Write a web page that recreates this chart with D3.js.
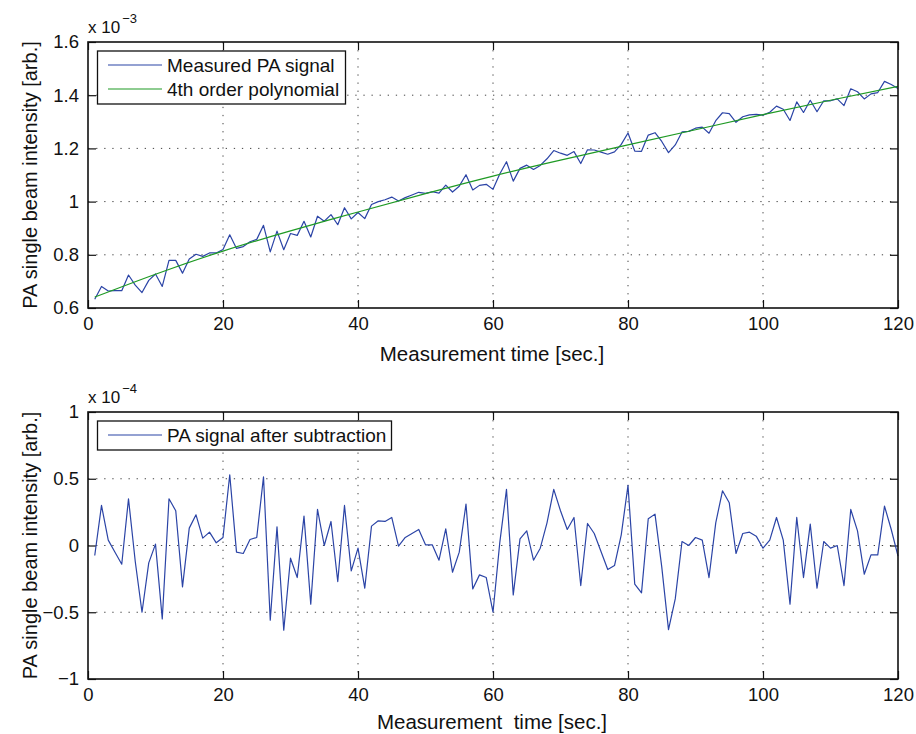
<!DOCTYPE html>
<html>
<head>
<meta charset="UTF-8">
<title>PA signal</title>
<style>
    body{ margin:0; background:#fff; }
    svg{ display:block; }
    text{ font-family:"Liberation Sans", Arial, Helvetica, sans-serif; fill:#111; }
</style>
</head>
<body>
<script src="https://cdn.jsdelivr.net/npm/d3@7"></script>
<script>

// time axis: one sample per second
var timeSec = d3.range(1, 121);

// measured PA signal (x 1e-3)
var measuredSignal = [
    0.633, 0.681, 0.664, 0.665, 0.665, 0.724, 0.686, 0.658, 0.704, 0.728,
    0.681, 0.779, 0.779, 0.731, 0.784, 0.802, 0.794, 0.807, 0.807, 0.820,
    0.875, 0.824, 0.831, 0.849, 0.858, 0.911, 0.811, 0.889, 0.819, 0.880,
    0.873, 0.926, 0.867, 0.945, 0.926, 0.951, 0.913, 0.977, 0.935, 0.959,
    0.936, 0.989, 1.000, 1.007, 1.017, 1.002, 1.015, 1.025, 1.035, 1.031,
    1.037, 1.032, 1.062, 1.036, 1.058, 1.101, 1.044, 1.061, 1.065, 1.046,
    1.104, 1.150, 1.077, 1.125, 1.137, 1.121, 1.136, 1.161, 1.192, 1.182,
    1.174, 1.188, 1.143, 1.195, 1.194, 1.186, 1.178, 1.187, 1.215, 1.258,
    1.190, 1.189, 1.250, 1.259, 1.226, 1.184, 1.213, 1.262, 1.264, 1.276,
    1.280, 1.257, 1.304, 1.334, 1.331, 1.298, 1.319, 1.326, 1.328, 1.325,
    1.336, 1.359, 1.347, 1.305, 1.375, 1.335, 1.381, 1.338, 1.379, 1.379,
    1.386, 1.361, 1.424, 1.413, 1.386, 1.405, 1.410, 1.452, 1.440, 1.425
];

// 4th order polynomial fit, read at a few times (x 1e-3)
var polyTimes  = [1, 10, 20, 30, 40, 50, 60, 70, 80, 90, 100, 110, 120];
var polyValues = [0.641, 0.727, 0.814, 0.890, 0.961, 1.030, 1.096, 1.156, 1.213, 1.270, 1.327, 1.381, 1.433];

// signal after subtraction (x 1e-4)
var residual = [
    -0.075, 0.30, 0.04, -0.05, -0.14, 0.35, -0.12, -0.50, -0.13, 0.01,
    -0.55, 0.35, 0.26, -0.31, 0.13, 0.23, 0.055, 0.10, 0.02, 0.06,
    0.53, -0.05, -0.06, 0.045, 0.06, 0.515, -0.56, 0.14, -0.635, -0.095,
    -0.24, 0.22, -0.44, 0.27, 0.0, 0.18, -0.27, 0.30, -0.19, -0.02,
    -0.32, 0.145, 0.185, 0.18, 0.21, -0.005, 0.06, 0.09, 0.12, 0.005,
    0.005, -0.11, 0.125, -0.20, -0.05, 0.31, -0.325, -0.22, -0.24, -0.50,
    0.02, 0.42, -0.37, 0.05, 0.11, -0.11, -0.02, 0.17, 0.42, 0.26,
    0.12, 0.21, -0.30, 0.165, 0.09, -0.045, -0.18, -0.15, 0.08, 0.45,
    -0.29, -0.355, 0.20, 0.235, -0.16, -0.63, -0.40, 0.03, 0.0, 0.06,
    0.04, -0.24, 0.17, 0.41, 0.32, -0.06, 0.09, 0.10, 0.07, -0.02,
    0.04, 0.21, 0.04, -0.44, 0.21, -0.24, 0.16, -0.32, 0.03, -0.02,
    0.0, -0.30, 0.27, 0.11, -0.215, -0.07, -0.07, 0.295, 0.12, -0.08
];

var xTicks = [0, 20, 40, 60, 80, 100, 120];
var topYTicks = [0.6, 0.8, 1, 1.2, 1.4, 1.6];
var topYLabels = ["0.6", "0.8", "1", "1.2", "1.4", "1.6"];
var botYTicks = [-1, -0.5, 0, 0.5, 1];
var botYLabels = ["\u22121", "\u22120.5", "0", "0.5", "1"];

var BLUE = "#2b44a6", GREEN = "#1f9a24";

var svg = d3.select("body").append("svg")
    .attr("width", 916)
    .attr("height", 734);

svg.append("rect").attr("width", 916).attr("height", 734).attr("fill", "#fff");

var left = 88, right = 898;

function drawPanel(top, bottom, yDomain, yTicks, yLabels, expo, xLabel, xLabelY, series, legend){
    var x = d3.scaleLinear().domain([0, 120]).range([left, right]);
    var y = d3.scaleLinear().domain(yDomain).range([bottom, top]);
    var g = svg.append("g");

    // dotted grid
    g.selectAll(".vg").data(xTicks.slice(1, -1)).enter().append("line")
        .attr("x1", function(d){ return x(d); }).attr("x2", function(d){ return x(d); })
        .attr("y1", top).attr("y2", bottom)
        .attr("stroke", "#444").attr("stroke-width", 1).attr("stroke-dasharray", "1.3,6.8");
    g.selectAll(".hg").data(yTicks.slice(1, -1)).enter().append("line")
        .attr("x1", left).attr("x2", right)
        .attr("y1", function(d){ return y(d); }).attr("y2", function(d){ return y(d); })
        .attr("stroke", "#444").attr("stroke-width", 1).attr("stroke-dasharray", "1.3,6.8");

    // axes with inward ticks on all sides
    var ax = [
        { a: d3.axisBottom(x).tickValues(xTicks).tickFormat(function(d){ return d; }), t: "translate(0," + bottom + ")" },
        { a: d3.axisTop(x).tickValues(xTicks).tickFormat(""), t: "translate(0," + top + ")" },
        { a: d3.axisLeft(y).tickValues(yTicks).tickFormat(function(d, i){ return yLabels[i]; }), t: "translate(" + left + ",0)" },
        { a: d3.axisRight(y).tickValues(yTicks).tickFormat(""), t: "translate(" + right + ",0)" }
    ];
    ax.forEach(function(o){
        var ag = g.append("g").attr("transform", o.t)
            .call(o.a.tickSizeInner(-8).tickSizeOuter(0).tickPadding(9));
        ag.select(".domain").remove();
        ag.selectAll("line").attr("stroke", "#111").attr("stroke-width", 1.2);
        ag.selectAll("text").style("font-size", "18.5px")
            .style("font-family", "'Liberation Sans', Arial, sans-serif").attr("fill", "#111");
    });

    // data lines
    series.forEach(function(s){
        var line = d3.line()
            .x(function(d){ return x(d[0]); })
            .y(function(d){ return y(d[1]); });
        if (s.smooth) line.curve(d3.curveNatural);
        g.append("path").datum(s.pts)
            .attr("d", line)
            .attr("fill", "none")
            .attr("stroke", s.color)
            .attr("stroke-width", 1.2)
            .attr("stroke-linejoin", "round");
    });

    // frame
    g.append("rect")
        .attr("x", left).attr("y", top)
        .attr("width", right - left).attr("height", bottom - top)
        .attr("fill", "none").attr("stroke", "#111").attr("stroke-width", 1.6);

    // legend
    var lg = g.append("g");
    lg.append("rect")
        .attr("x", 97.5).attr("y", top + 9)
        .attr("width", legend.w).attr("height", legend.entries.length * 24 + 5)
        .attr("fill", "#fff").attr("stroke", "#111").attr("stroke-width", 1.3);
    legend.entries.forEach(function(e, i){
        var ly = top + 23 + i * 24;
        lg.append("line").attr("x1", 108).attr("x2", 162).attr("y1", ly).attr("y2", ly)
            .attr("stroke", e.color).attr("stroke-width", 1.2);
        lg.append("text").attr("x", 167).attr("y", ly + 6.8)
            .style("font-size", "19px").text(e.label);
    });

    // exponent label
    var ex = g.append("text").attr("x", 88).attr("y", top - 9).style("font-size", "17px");
    ex.append("tspan").text("x 10");
    ex.append("tspan").attr("dy", -10).attr("dx", 2).style("font-size", "13px").text(expo);

    // axis titles
    g.append("text").attr("x", (left + right) / 2 - 1).attr("y", xLabelY)
        .attr("text-anchor", "middle").style("font-size", "20.5px")
        .style("white-space", "pre").attr("xml:space", "preserve").text(xLabel);
    g.append("text")
        .attr("transform", "translate(37," + ((top + bottom) / 2) + ") rotate(-90)")
        .attr("text-anchor", "middle").style("font-size", "20px")
        .text("PA single beam intensity [arb.]");
}

drawPanel(42, 308, [0.6, 1.6], topYTicks, topYLabels, "\u22123",
    "Measurement time [sec.]", 361,
    [
        { pts: timeSec.map(function(t, i){ return [t, measuredSignal[i]]; }), color: BLUE },
        { pts: polyTimes.map(function(t, i){ return [t, polyValues[i]]; }), color: GREEN, smooth: true }
    ],
    { w: 248, entries: [
        { label: "Measured PA signal", color: BLUE },
        { label: "4th order polynomial", color: GREEN }
    ]});

drawPanel(412, 679, [-1, 1], botYTicks, botYLabels, "\u22124",
    "Measurement  time [sec.]", 729,
    [
        { pts: timeSec.map(function(t, i){ return [t, residual[i]]; }), color: BLUE }
    ],
    { w: 294, entries: [
        { label: "PA signal after subtraction", color: BLUE }
    ]});

</script>
</body>
</html>
